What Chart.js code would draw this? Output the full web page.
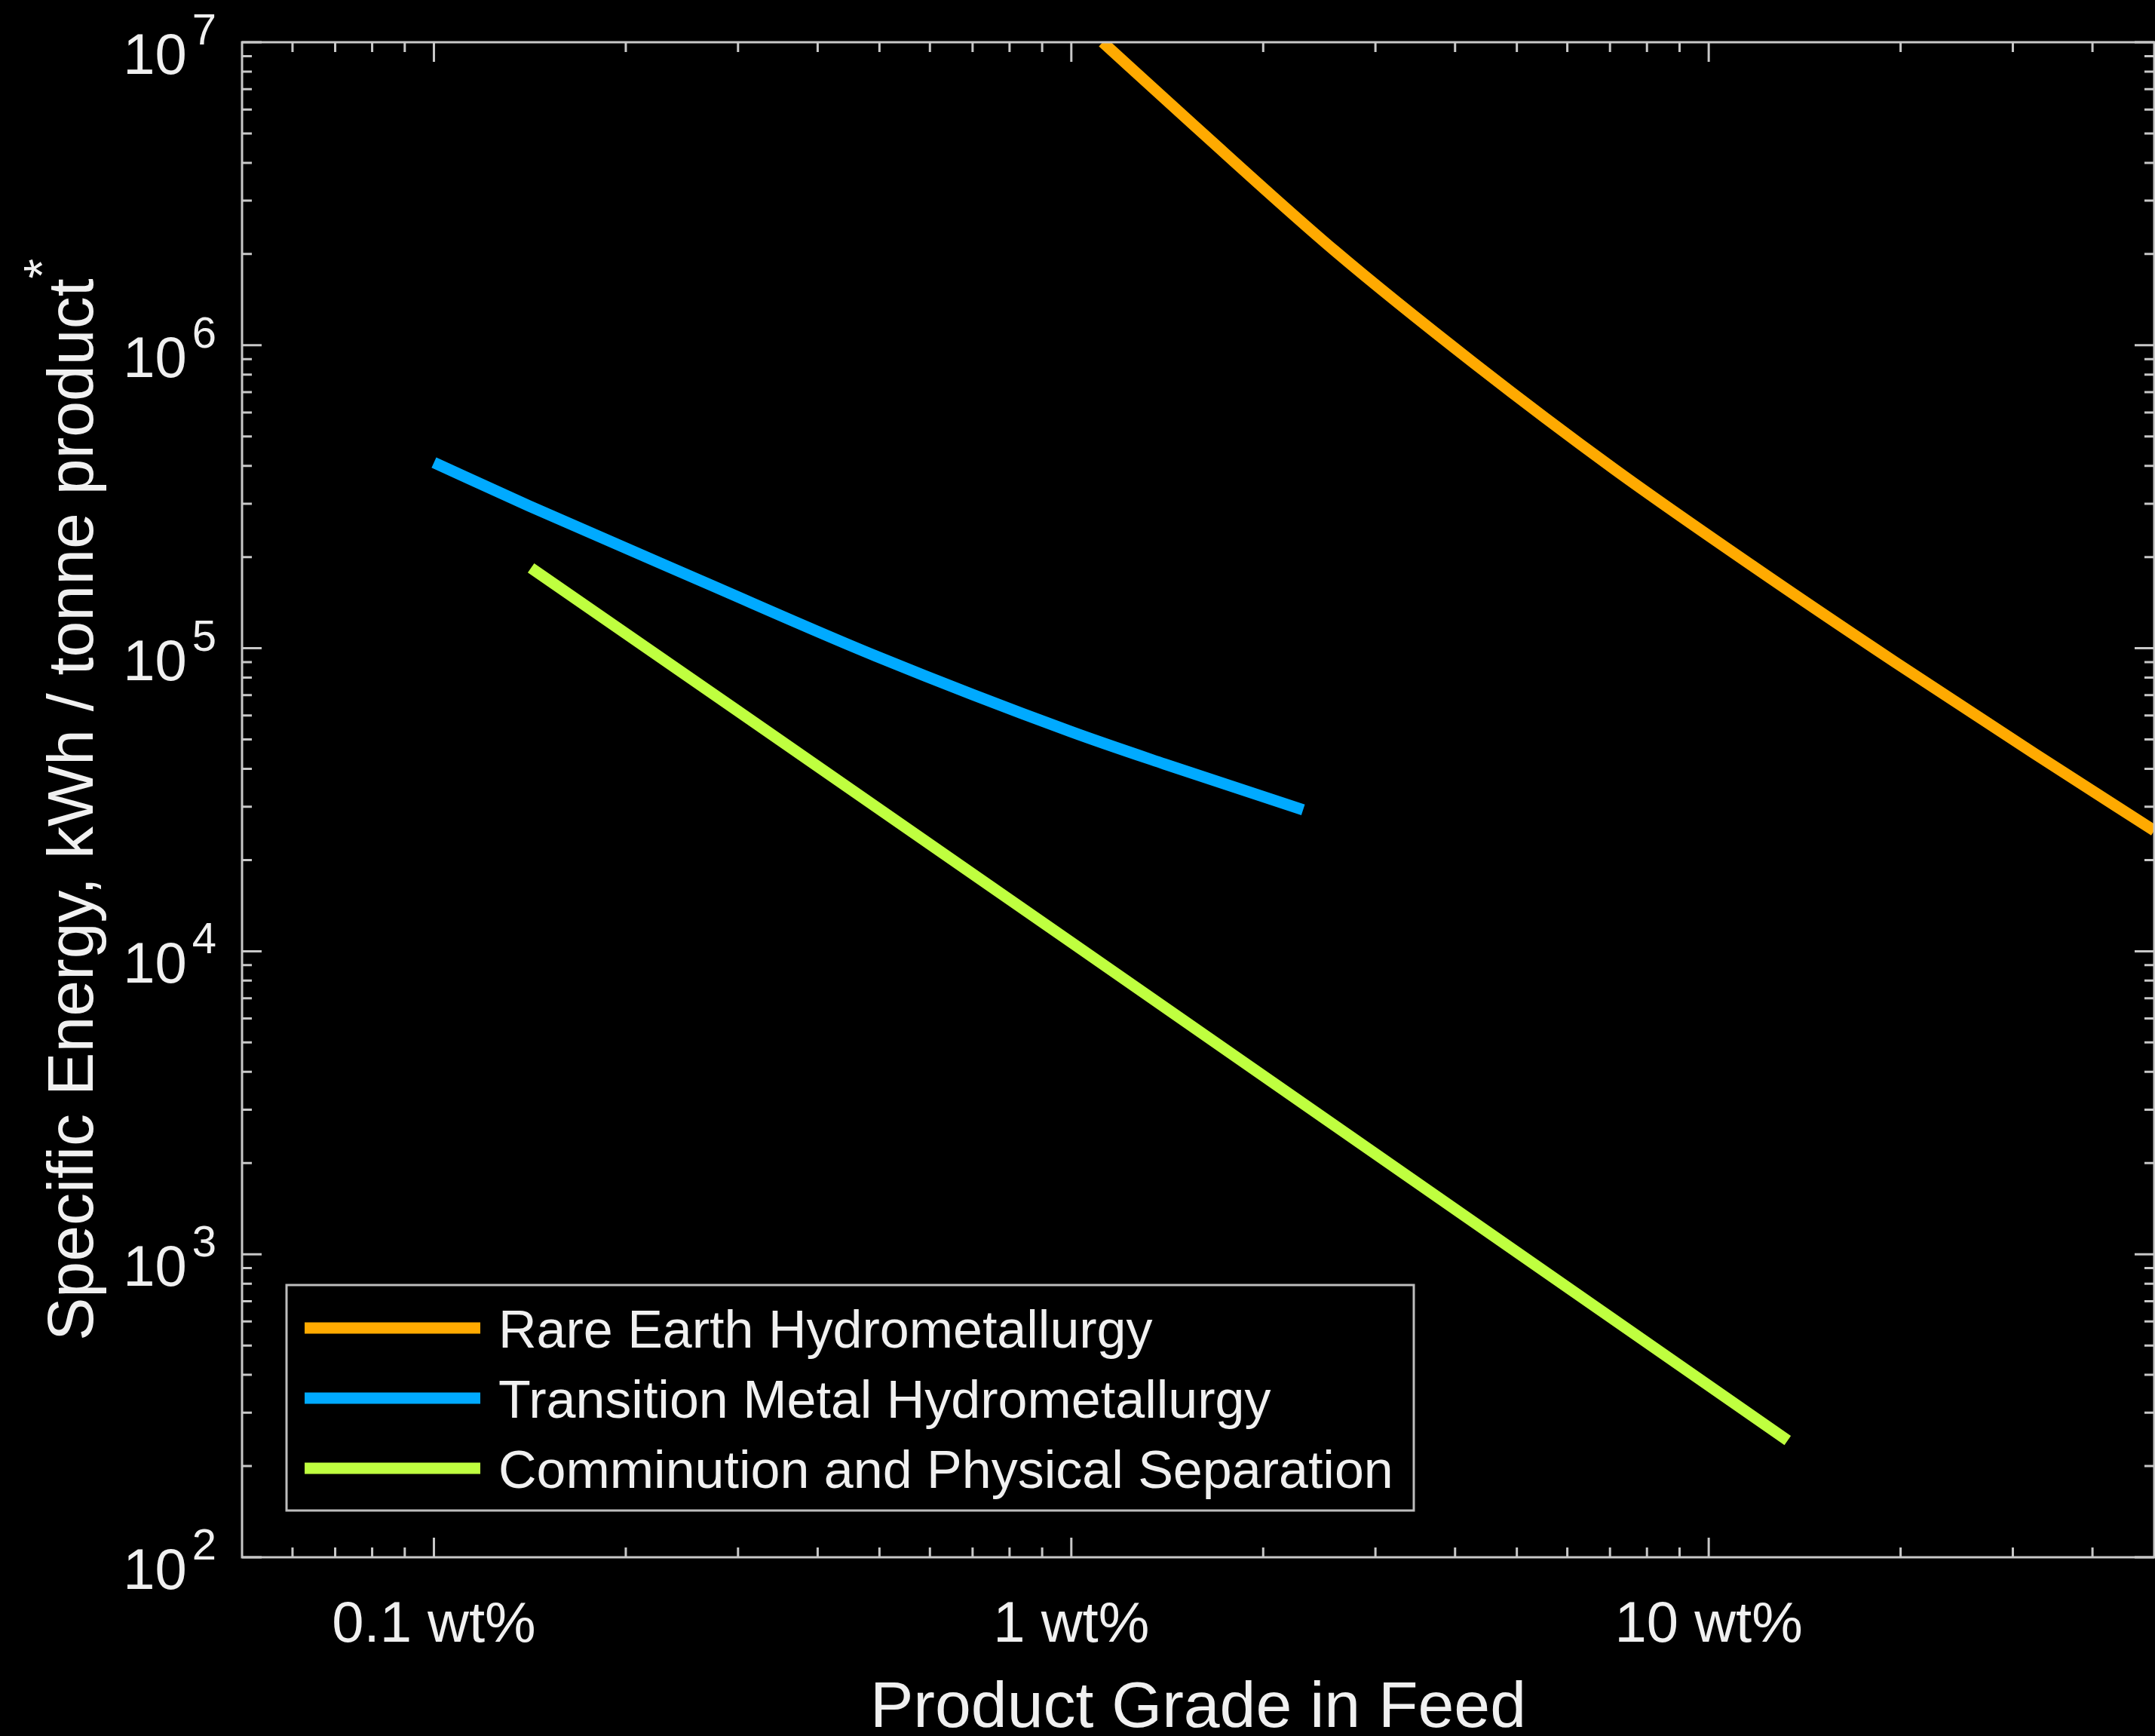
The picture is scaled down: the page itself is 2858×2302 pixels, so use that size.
<!DOCTYPE html>
<html>
<head>
<meta charset="utf-8">
<script src="https://cdn.jsdelivr.net/npm/chart.js@4.4.0/dist/chart.umd.min.js"></script>
<style>
  html, body { margin: 0; padding: 0; background: #000; }
  #wrap { width: 2858px; height: 2302px; }
</style>
</head>
<body>
<div id="wrap"><canvas id="energyChart" width="2858" height="2302"></canvas></div>
<script>
// Product grade in feed (wt%) vs specific energy (kWh / tonne product)
const rareEarthGrade  = [1.12, 1.56, 2.59, 4.29, 7.11, 11.8, 19.6, 32.4, 50];
const rareEarthEnergy = [1.0e7, 5.3e6, 2.05e6, 8.7e5, 3.9e5, 1.85e5, 9.0e4, 4.5e4, 2.5e4];

const transitionGrade  = [0.1, 0.141, 0.264, 0.492, 1.0, 1.4, 2.31];
const transitionEnergy = [4.1e5, 2.95e5, 1.66e5, 9.45e4, 5.3e4, 4.15e4, 2.93e4];

const comminutionGrade  = [0.142, 0.3, 1.0, 2.5, 13.3];
const comminutionEnergy = [1.84e5, 6.2e4, 1.07e4, 2.8e3, 243];

const seriesNames  = ['Rare Earth Hydrometallurgy', 'Transition Metal Hydrometallurgy', 'Comminution and Physical Separation'];
const seriesColors = ['#ffaa00', '#00aaff', '#bfff3f'];

// axis ticks
const xMajorTicks = [0.1, 1, 10];
const xTickLabels = ['0.1 wt%', '1 wt%', '10 wt%'];
const xMinorTicks = [0.06, 0.07, 0.08, 0.09,
                     0.2, 0.3, 0.4, 0.5, 0.6, 0.7, 0.8, 0.9,
                     2, 3, 4, 5, 6, 7, 8, 9,
                     20, 30, 40];
const yMajorTicks = [1e2, 1e3, 1e4, 1e5, 1e6, 1e7];
const yTickExponents = ['2', '3', '4', '5', '6', '7'];
const yMinorTicks = [2e2, 3e2, 4e2, 5e2, 6e2, 7e2, 8e2, 9e2,
                     2e3, 3e3, 4e3, 5e3, 6e3, 7e3, 8e3, 9e3,
                     2e4, 3e4, 4e4, 5e4, 6e4, 7e4, 8e4, 9e4,
                     2e5, 3e5, 4e5, 5e5, 6e5, 7e5, 8e5, 9e5,
                     2e6, 3e6, 4e6, 5e6, 6e6, 7e6, 8e6, 9e6];

const FONT = '"Liberation Sans", Arial, sans-serif';
const TEXT = '#f0f0f0';
const AXIS = '#c8c8c8';

function toPoints(xs, ys) {
    return xs.map((v, i) => ({ x: v, y: ys[i] }));
}

// MATLAB-like box with inward ticks, 10^n labels and titles
const frame = {
    id: 'frame',
    afterDatasetsDraw(chart) {
        const { ctx, chartArea: a, scales: { x, y } } = chart;
        ctx.save();
        ctx.strokeStyle = AXIS;
        ctx.lineWidth = 3;
        ctx.beginPath();
        const xTick = (v, len) => {
            const px = x.getPixelForValue(v);
            ctx.moveTo(px, a.bottom); ctx.lineTo(px, a.bottom - len);
            ctx.moveTo(px, a.top); ctx.lineTo(px, a.top + len);
        };
        const yTick = (v, len) => {
            const py = y.getPixelForValue(v);
            ctx.moveTo(a.left, py); ctx.lineTo(a.left + len, py);
            ctx.moveTo(a.right, py); ctx.lineTo(a.right - len, py);
        };
        xMajorTicks.forEach(v => xTick(v, 26));
        xMinorTicks.forEach(v => xTick(v, 13));
        yMajorTicks.forEach(v => yTick(v, 26));
        yMinorTicks.forEach(v => yTick(v, 13));
        ctx.stroke();
        ctx.strokeRect(a.left, a.top, a.right - a.left, a.bottom - a.top);

        ctx.fillStyle = TEXT;
        ctx.textBaseline = 'alphabetic';

        // x tick labels
        ctx.font = `76px ${FONT}`;
        ctx.textAlign = 'center';
        xMajorTicks.forEach((v, i) => {
            ctx.fillText(xTickLabels[i], x.getPixelForValue(v), a.bottom + 112);
        });

        // y tick labels as 10 with superscript exponent
        ctx.textAlign = 'right';
        yMajorTicks.forEach((v, i) => {
            const py = y.getPixelForValue(v);
            ctx.font = `58px ${FONT}`;
            const ew = ctx.measureText(yTickExponents[i]).width;
            ctx.fillText(yTickExponents[i], a.left - 34, py + 3);
            ctx.font = `76px ${FONT}`;
            ctx.fillText('10', a.left - 34 - ew - 7, py + 42);
        });

        // x title
        ctx.font = `86px ${FONT}`;
        ctx.textAlign = 'center';
        ctx.fillText('Product Grade in Feed', (a.left + a.right) / 2, a.bottom + 225);

        // y title with superscript asterisk
        const main = 'Specific Energy, kWh / tonne product';
        ctx.translate(123, (a.top + a.bottom) / 2);
        ctx.rotate(-Math.PI / 2);
        ctx.textAlign = 'left';
        ctx.font = `86px ${FONT}`;
        const mw = ctx.measureText(main).width;
        ctx.font = `68px ${FONT}`;
        const sw = ctx.measureText('*').width;
        const start = -(mw + sw) / 2;
        ctx.font = `86px ${FONT}`;
        ctx.fillText(main, start, 0);
        ctx.font = `68px ${FONT}`;
        ctx.fillText('*', start + mw, -44);
        ctx.restore();
    }
};

// legend box in the lower left of the axes
const legendBox = {
    id: 'legendBox',
    afterDraw(chart) {
        const { ctx, chartArea: a } = chart;
        const left = a.left + 59, top = a.bottom - 361, w = 1495, h = 299;
        ctx.save();
        ctx.fillStyle = '#000';
        ctx.fillRect(left, top, w, h);
        ctx.strokeStyle = '#bdbdbd';
        ctx.lineWidth = 3;
        ctx.strokeRect(left, top, w, h);
        ctx.font = `70px ${FONT}`;
        ctx.textAlign = 'left';
        ctx.textBaseline = 'alphabetic';
        chart.data.datasets.forEach((ds, i) => {
            const yy = top + 57 + i * 93;
            ctx.strokeStyle = ds.borderColor;
            ctx.lineWidth = 15;
            ctx.beginPath();
            ctx.moveTo(left + 24, yy);
            ctx.lineTo(left + 257, yy);
            ctx.stroke();
            ctx.fillStyle = TEXT;
            ctx.fillText(ds.label, left + 281, yy + 26);
        });
        ctx.restore();
    }
};

const ctx = document.getElementById('energyChart').getContext('2d');
const energyChart = new Chart(ctx, {
    type: 'scatter',
    data: {
        datasets: [
            {
                label: seriesNames[0],
                data: toPoints(rareEarthGrade, rareEarthEnergy),
                borderColor: seriesColors[0],
                cubicInterpolationMode: 'monotone'
            },
            {
                label: seriesNames[1],
                data: toPoints(transitionGrade, transitionEnergy),
                borderColor: seriesColors[1],
                cubicInterpolationMode: 'monotone'
            },
            {
                label: seriesNames[2],
                data: toPoints(comminutionGrade, comminutionEnergy),
                borderColor: seriesColors[2],
                tension: 0
            }
        ].map(ds => Object.assign(ds, {
            showLine: true,
            borderWidth: 15,
            pointRadius: 0,
            pointHoverRadius: 0,
            borderCapStyle: 'butt',
            borderJoinStyle: 'round',
            fill: false,
            clip: 0
        }))
    },
    options: {
        responsive: false,
        devicePixelRatio: 1,
        animation: false,
        events: [],
        layout: { padding: { left: 321, top: 56, right: 1, bottom: 237 } },
        plugins: {
            legend: { display: false },
            tooltip: { enabled: false }
        },
        scales: {
            x: { type: 'logarithmic', min: 0.05, max: 50, display: false },
            y: { type: 'logarithmic', min: 100, max: 1e7, display: false }
        }
    },
    plugins: [frame, legendBox]
});
</script>
</body>
</html>
